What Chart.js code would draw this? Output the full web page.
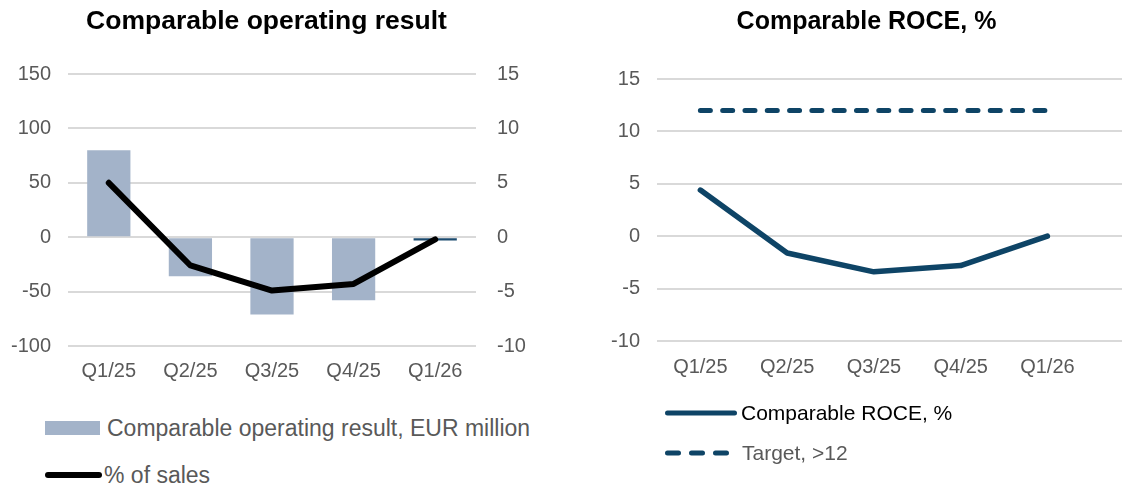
<!DOCTYPE html>
<html>
<head>
<meta charset="utf-8">
<script src="https://cdn.jsdelivr.net/npm/chart.js@4"></script>
<style>
  html, body { margin: 0; padding: 0; background: #fff; }
  body { width: 1122px; height: 489px; position: relative; overflow: hidden; font-family: "Liberation Sans", Arial, sans-serif; }
  .chart-box { position: absolute; top: 0; height: 400px; }
  #leftBox { left: 0; width: 533px; }
  #rightBox { left: 560px; width: 562px; }
  .legend-item { position: absolute; display: flex; align-items: center; white-space: nowrap; height: 30px; }
  .legend-item svg { display: block; }
</style>
</head>
<body>
<div class="chart-box" id="leftBox"><canvas id="leftChart"></canvas></div>
<div class="chart-box" id="rightBox"><canvas id="rightChart"></canvas></div>
<div id="legends"></div>
<script>
// data
const quarters = ["Q1/25", "Q2/25", "Q3/25", "Q4/25", "Q1/26"];
const operatingResult = [80, -36, -71, -58, -3];   // EUR million, left axis
const salesPct = [5.0, -2.6, -4.9, -4.3, -0.2];     // % of sales, right axis
const roce = [4.4, -1.6, -3.4, -2.8, 0.0];
const roceTarget = [12, 12, 12, 12, 12];

// axis ranges [min, max, step]
const resultAxis = [-100, 150, 50];
const salesAxis = [-10, 15, 5];
const roceAxis = [-10, 15, 5];

const FONT = "'Liberation Sans', Arial, sans-serif";
const GREY = "#595959";
const GRID = "#d9d9d9";
const BAR_COLOR = "#a3b3c9";
const BAR_LAST = "#1b4a6e";
const NAVY = "#0e4466";

const tickFont = { size: 20, family: FONT };

// fix axis sizes so the plot areas land where the original has them
const fixWidth = (w) => (scale) => { scale.width = w; };
const fixHeight = (h) => (scale) => { scale.height = h; };

// left chart: bars + % of sales line
const leftChart = new Chart(document.getElementById("leftChart"), {
  data: {
    labels: quarters,
    datasets: [
      {
        type: "line",
        label: "% of sales",
        data: salesPct,
        yAxisID: "y1",
        borderColor: "#000",
        borderWidth: 6,
        borderCapStyle: "round",
        borderJoinStyle: "round",
        pointRadius: 0,
        tension: 0,
        order: 0,
      },
      {
        type: "bar",
        label: "Comparable operating result, EUR million",
        data: operatingResult,
        yAxisID: "y",
        backgroundColor: (ctx) => ctx.dataIndex === operatingResult.length - 1 ? BAR_LAST : BAR_COLOR,
        categoryPercentage: 1,
        barPercentage: 0.53,
        order: 1,
      },
    ],
  },
  options: {
    responsive: true,
    maintainAspectRatio: false,
    animation: false,
    layout: { padding: { left: 0, right: 0, top: 0, bottom: 4 } },
    plugins: {
      legend: { display: false },
      tooltip: { enabled: false },
      title: {
        display: true,
        text: "Comparable operating result",
        color: "#000",
        font: { size: 26.5, weight: "bold", family: FONT },
        padding: { top: 6, bottom: 36.2 },
      },
    },
    scales: {
      x: {
        grid: { display: false, drawTicks: false },
        border: { display: false },
        ticks: { color: GREY, font: tickFont, padding: 13, maxRotation: 0 },
        afterFit: fixHeight(50),
      },
      y: {
        position: "left",
        min: resultAxis[0],
        max: resultAxis[1],
        ticks: { stepSize: resultAxis[2], color: GREY, font: tickFont, padding: 17 },
        grid: { color: GRID, lineWidth: 2, drawTicks: false },
        border: { display: false },
        afterFit: fixWidth(68),
      },
      y1: {
        position: "right",
        min: salesAxis[0],
        max: salesAxis[1],
        ticks: { stepSize: salesAxis[2], color: GREY, font: tickFont, padding: 21 },
        grid: { display: false, drawTicks: false },
        border: { display: false },
        afterFit: fixWidth(57),
      },
    },
  },
});

// right chart: ROCE vs target (linear x so the grid runs to the edge)
const toPoints = (arr) => arr.map((v, i) => ({ x: i, y: v }));

const rightChart = new Chart(document.getElementById("rightChart"), {
  type: "line",
  data: {
    datasets: [
      {
        label: "Comparable ROCE, %",
        data: toPoints(roce),
        borderColor: NAVY,
        borderWidth: 5.5,
        borderCapStyle: "round",
        borderJoinStyle: "round",
        pointRadius: 0,
        tension: 0,
      },
      {
        label: "Target, >12",
        data: toPoints(roceTarget),
        borderColor: NAVY,
        borderWidth: 5,
        borderDash: [10, 12.3],
        borderCapStyle: "round",
        pointRadius: 0,
        tension: 0,
      },
    ],
  },
  options: {
    responsive: true,
    maintainAspectRatio: false,
    animation: false,
    layout: { padding: { left: 51, right: 0, top: 0, bottom: 9 } },
    plugins: {
      legend: { display: false },
      tooltip: { enabled: false },
      title: {
        display: true,
        text: "Comparable ROCE, %",
        color: "#000",
        font: { size: 25, weight: "bold", family: FONT },
        padding: { top: 7, bottom: 42 },
      },
    },
    scales: {
      x: {
        type: "linear",
        min: -0.5,
        max: 4.86,
        grid: { display: false, drawTicks: false },
        border: { display: false },
        ticks: {
          stepSize: 1,
          includeBounds: false,
          color: GREY,
          font: tickFont,
          padding: 14,
          maxRotation: 0,
          callback: (v) => quarters[v],
        },
        afterFit: fixHeight(50),
      },
      y: {
        min: roceAxis[0],
        max: roceAxis[1],
        ticks: { stepSize: roceAxis[2], color: GREY, font: tickFont, padding: 17 },
        grid: { color: GRID, lineWidth: 2, drawTicks: false },
        border: { display: false },
        afterFit: fixWidth(46),
      },
    },
  },
});

// html legends built from the datasets
function swatchSvg(item) {
  const w = item.w, h = 30, mid = h / 2;
  let shape;
  if (item.kind === "box") {
    shape = `<rect x="0" y="${mid - 7}" width="${w}" height="14" fill="${item.color}"/>`;
  } else {
    const lw = item.lw;
    const dash = item.dash ? ` stroke-dasharray="${item.dash.join(" ")}"` : "";
    shape = `<line x1="${lw / 2}" y1="${mid}" x2="${w - lw / 2}" y2="${mid}" stroke="${item.color}" stroke-width="${lw}" stroke-linecap="round"${dash}/>`;
  }
  return `<svg width="${w}" height="${h}">${shape}</svg>`;
}

function buildLegend(chart, specs) {
  const holder = document.getElementById("legends");
  chart.data.datasets.forEach((ds) => {
    const it = specs[ds.label];
    const div = document.createElement("div");
    div.className = "legend-item";
    div.style.left = it.x + "px";
    div.style.top = (it.y - 15) + "px";
    div.innerHTML = swatchSvg(it) +
      `<span style="margin-left:${it.gap}px;font-size:${it.size}px;color:${it.textColor};line-height:30px">${ds.label}</span>`;
    holder.appendChild(div);
  });
}

buildLegend(leftChart, {
  "Comparable operating result, EUR million": { kind: "box", color: BAR_COLOR, x: 45, y: 428, w: 55, gap: 7, size: 23, textColor: GREY },
  "% of sales": { kind: "line", color: "#000", lw: 6, x: 45, y: 475, w: 57, gap: 2, size: 23, textColor: GREY },
});

buildLegend(rightChart, {
  "Comparable ROCE, %": { kind: "line", color: NAVY, lw: 5, x: 665, y: 413, w: 72, gap: 4, size: 21, textColor: "#000" },
  "Target, >12": { kind: "line", color: NAVY, lw: 5, dash: [11, 13], x: 665, y: 453, w: 64, gap: 13, size: 21, textColor: GREY },
});
</script>
</body>
</html>
